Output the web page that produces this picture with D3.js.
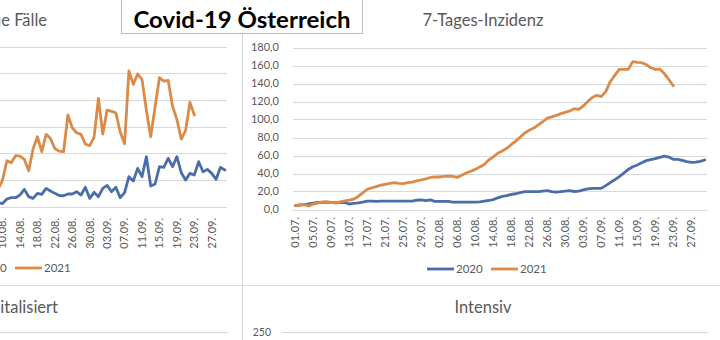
<!DOCTYPE html>
<html>
<head>
<meta charset="utf-8">
<script src="https://cdn.jsdelivr.net/npm/d3@7"></script>
<style>
  html, body { margin: 0; padding: 0; background: #ffffff; }
  svg { display: block; }
  text { font-family: Lato, "Open Sans", sans-serif; }
</style>
</head>
<body>
<svg id="chart" width="720" height="340"></svg>
<script>
// ---------- DATA ----------
const seriesNames = ["2020", "2021"];
const panelTitles = ["Neue Fälle", "7-Tages-Inzidenz", "Hospitalisiert", "Intensiv"];
const mainTitle = "Covid-19 Österreich";

// categories: 01.07. – 30.09.
const dayLabels = d3.timeDay.range(new Date(2021, 6, 1), new Date(2021, 9, 1)).map(d3.timeFormat("%d.%m."));

// Neue Fälle (daily new cases)
const cases2020 = [74,62,96,83,45,38,93,110,128,95,82,52,44,121,108,110,96,113,70,52,101,124,109,141,113,89,58,129,144,153,127,96,71,52,138,146,154,112,92,70,
  60,144,169,169,219,325,188,156,250,231,344,294,250,210,205,238,238,281,219,363,156,269,188,344,400,281,363,169,263,563,481,719,563,938,388,425,750,738,906,750,938,638,500,625,594,844,656,700,625,513,738,688];
const cases2021 = [89,112,97,68,55,101,155,172,149,129,103,97,192,241,268,319,240,182,158,306,372,388,416,356,290,228,377,449,452,471,438,358,265,401,520,492,512,479,376,330,
  500,862,825,956,950,888,675,1080,1312,1031,1357,1280,1090,1040,1031,1719,1481,1387,1356,1175,1144,1300,2031,1362,1812,1787,1762,1400,1181,2544,2294,2487,2387,1812,1312,1870,2419,2356,2369,1887,1637,1269,1425,1956,1719];

// 7-Tages-Inzidenz
const inc2020 = [4.3,5.0,5.5,6.3,7.2,7.8,8.0,8.0,8.0,7.6,7.6,7.6,6.1,6.7,7.4,8.3,9.2,9.2,9.1,9.3,9.4,9.4,9.4,9.4,9.4,9.4,9.4,10.3,10.6,9.8,10.6,9.1,9.1,9.1,9.1,8.3,8.3,8.3,8.3,8.3,
  8.3,8.5,9.2,10.0,11.0,13.0,14.5,15.4,16.7,17.5,18.8,19.8,19.8,19.8,19.8,20.3,20.9,19.8,19.2,19.8,20.3,20.9,20.0,20.5,21.7,23.0,23.5,23.5,23.5,26.5,29.8,33.0,36.5,40.5,44.5,47.5,49.5,52.0,54.3,55.5,56.5,58.0,59.4,58.2,55.7,55.7,54.5,53.1,52.4,52.6,53.5,55.0];
const inc2021 = [4.3,5.0,5.5,4.0,6.0,7.2,8.5,8.7,8.0,7.0,8.5,9.5,10.3,11.5,14.5,18.5,22.5,24.0,25.5,27.0,28.0,29.0,29.8,29.0,28.8,29.8,30.5,31.8,32.8,34.0,35.6,36.1,36.1,36.8,37.2,36.9,35.7,38.0,40.5,42.5,
  44.6,47.3,50.0,55.0,58.5,62.5,65.0,68.0,72.0,76.0,80.5,85.0,88.0,90.5,94.0,97.5,101.5,103.0,104.5,106.5,108.0,109.5,112.0,111.3,115.0,120.0,124.5,126.9,125.4,131.0,142.0,149.0,155.7,155.7,155.7,164.3,163.5,163.1,161.0,157.5,155.7,156.0,151.0,144.5,137.5];

const casesTicks = [0,500,1000,1500,2000,2500,3000];
const incTicks = [0,20,40,60,80,100,120,140,160,180];
const bottomTicks = [250];

// ---------- STYLE ----------
const colors = ["#4a6ea8", "#dc8a48"];
const gridColor = "#d9d9d9";
const textColor = "#595959";

const svg = d3.select("#chart");

function drawLinePanel(opt) {
  const g = svg.append("g");
  const x = d3.scaleBand().domain(dayLabels).range(opt.xRange);
  const cx = d => x(d) + x.bandwidth() / 2;
  const y = d3.scaleLinear().domain(opt.yDomain).range(opt.yRange);

  // gridlines
  g.append("g").selectAll("line").data(opt.ticks).join("line")
    .attr("x1", opt.xRange[0]).attr("x2", opt.xRange[1])
    .attr("y1", d => Math.round(y(d)) + 0.5).attr("y2", d => Math.round(y(d)) + 0.5)
    .attr("stroke", gridColor).attr("stroke-width", 1);

  // y labels
  if (opt.showY) {
    g.append("g").selectAll("text").data(opt.ticks).join("text")
      .attr("x", opt.xRange[0] - 14).attr("y", d => y(d)).attr("dy", "0.35em")
      .attr("text-anchor", "end").attr("fill", textColor).attr("font-size", 11)
      .text(d => d.toFixed(1).replace(".", ","));
  }

  // x labels every 4 days
  const xl = dayLabels.filter((d, i) => i % 4 === 0);
  g.append("g").selectAll("text").data(xl).join("text")
    .attr("transform", d => `translate(${cx(d)},${opt.labelTop}) rotate(-90)`)
    .attr("dy", "0.35em").attr("text-anchor", "end")
    .attr("fill", textColor).attr("font-size", 11)
    .text(d => d);

  // lines
  const line = d3.line().x((d, i) => cx(dayLabels[i])).y(d => y(d)).curve(d3.curveLinear);
  opt.series.forEach((s, k) => {
    g.append("path").datum(s).attr("d", line)
      .attr("fill", "none").attr("stroke", colors[k]).attr("stroke-width", 2.8)
      .attr("stroke-linejoin", "round").attr("stroke-linecap", "round");
  });

  // legend
  const lg = g.append("g").attr("transform", `translate(${opt.legendX},${opt.legendY})`);
  seriesNames.forEach((n, k) => {
    const off = k * 64;
    lg.append("line").attr("x1", off).attr("x2", off + 27).attr("y1", 0).attr("y2", 0)
      .attr("stroke", colors[k]).attr("stroke-width", 2.8);
    lg.append("text").attr("x", off + 29).attr("y", 0).attr("dy", "0.35em")
      .attr("fill", textColor).attr("font-size", 11.5).text(n);
  });

  // title
  g.append("text").attr("x", opt.titleX).attr("y", 26)
    .attr("text-anchor", opt.titleAnchor).attr("fill", textColor).attr("font-size", 16.5)
    .text(opt.title);
}

// Left panel: Neue Fälle
drawLinePanel({
  xRange: [-174, 227], yDomain: [0, 3000], yRange: [206.7, 46.7],
  ticks: casesTicks, showY: false, labelTop: 218,
  series: [cases2020, cases2021],
  legendX: -49, legendY: 268,
  title: panelTitles[0], titleX: 47, titleAnchor: "end"
});

// Right panel: 7-Tages-Inzidenz
drawLinePanel({
  xRange: [293, 707], yDomain: [0, 180], yRange: [209.5, 47.5],
  ticks: incTicks, showY: true, labelTop: 217,
  series: [inc2020, inc2021],
  legendX: 427, legendY: 269,
  title: panelTitles[1], titleX: 483, titleAnchor: "middle"
});

// frame separators
svg.append("line").attr("x1", 242.5).attr("x2", 242.5).attr("y1", 33).attr("y2", 340)
  .attr("stroke", gridColor).attr("stroke-width", 1.2);
svg.append("line").attr("x1", 0).attr("x2", 720).attr("y1", 285.5).attr("y2", 285.5)
  .attr("stroke", gridColor).attr("stroke-width", 1.2);

// bottom panels (partially visible)
svg.append("text").attr("x", 58).attr("y", 313).attr("text-anchor", "end")
  .attr("fill", textColor).attr("font-size", 16.5).text(panelTitles[2]);
svg.append("text").attr("x", 483).attr("y", 313).attr("text-anchor", "middle")
  .attr("fill", textColor).attr("font-size", 16.5).text(panelTitles[3]);

const yB = d3.scaleLinear().domain([0, 250]).range([420, 332.5]);
bottomTicks.forEach(t => {
  svg.append("line").attr("x1", 0).attr("x2", 228).attr("y1", yB(t)).attr("y2", yB(t))
    .attr("stroke", gridColor);
  svg.append("line").attr("x1", 282).attr("x2", 708).attr("y1", yB(t)).attr("y2", yB(t))
    .attr("stroke", gridColor);
  svg.append("text").attr("x", 271).attr("y", yB(t)).attr("dy", "0.35em").attr("text-anchor", "end")
    .attr("fill", textColor).attr("font-size", 10.5).text(t);
});

// main title box
svg.append("rect").attr("x", 121.5).attr("y", -2).attr("width", 241).attr("height", 35.5)
  .attr("fill", "#ffffff").attr("stroke", "#bfbfbf").attr("stroke-width", 1);
svg.append("text").attr("x", 242).attr("y", 28).attr("text-anchor", "middle")
  .attr("font-weight", "bold").attr("font-size", 22).attr("fill", "#000000")
  .attr("textLength", 217).attr("lengthAdjust", "spacingAndGlyphs")
  .text(mainTitle);
</script>
</body>
</html>
